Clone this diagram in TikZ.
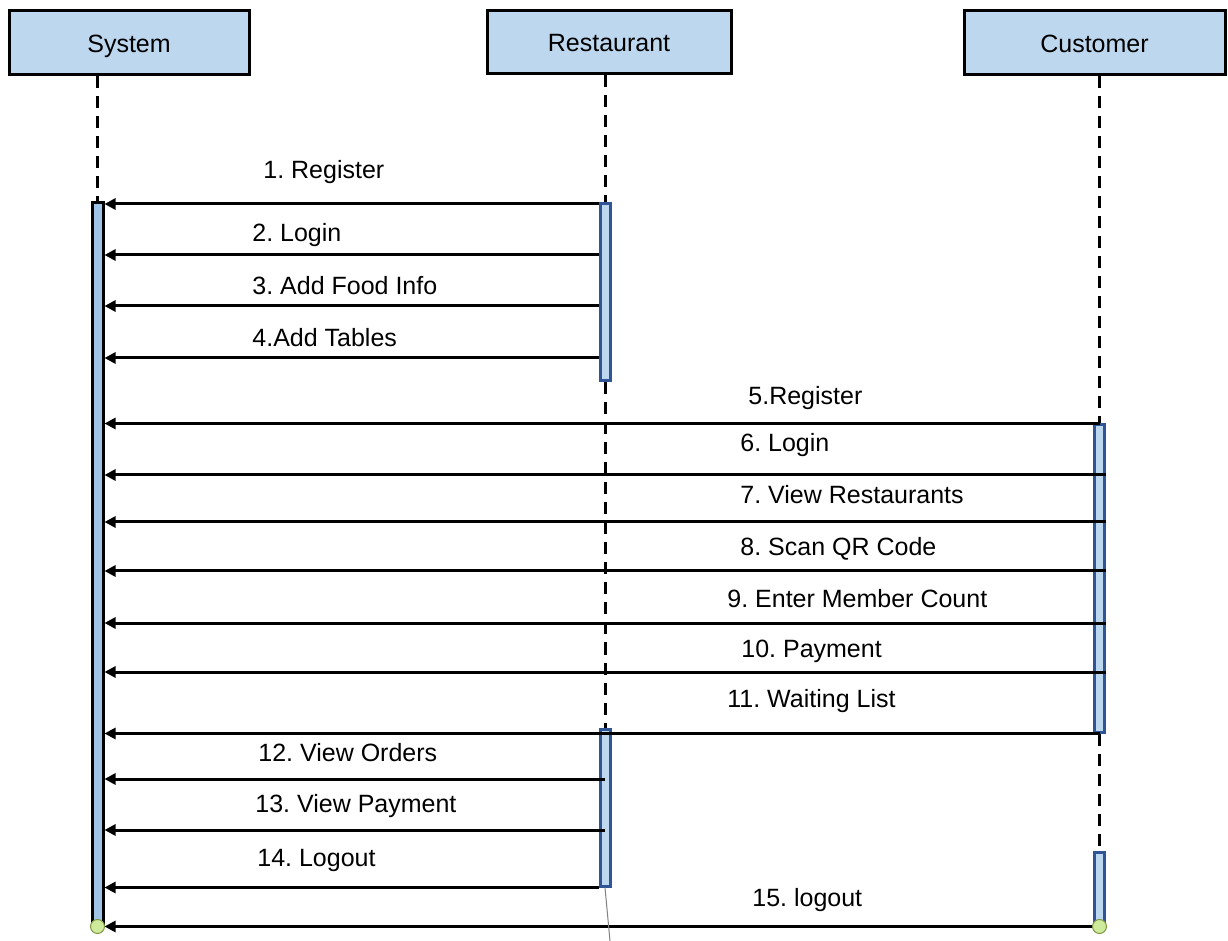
\documentclass[tikz,border=0pt]{standalone}
\usepackage{fontspec}
\setmainfont{Liberation Sans}
\usetikzlibrary{arrows.meta}
\frenchspacing

\definecolor{headfill}{RGB}{189,215,238}
\definecolor{barfill}{RGB}{157,195,230}
\definecolor{barline}{RGB}{47,85,151}
\definecolor{endfill}{RGB}{205,235,155}
\definecolor{endline}{RGB}{130,150,70}

\tikzset{
  head/.style={draw=black, line width=1.5pt, fill=headfill, minimum width=#1,
    minimum height=32pt, inner sep=0pt, text height=12pt, text depth=2.5pt,
    font=\fontsize{12.5}{15}\selectfont},
  sysbar/.style={draw=black, line width=1.5pt, fill=barfill, minimum width=5.5pt, inner sep=0pt},
  actbar/.style={draw=barline, line width=1.5pt, fill=headfill, minimum width=5pt, inner sep=0pt},
  lifeline/.style={line width=1.5pt, dash pattern=on 6pt off 4pt},
  msg/.style={line width=1.5pt, -{Triangle[length=5.5pt,width=5.5pt]}},
  lbl/.style={anchor=base west, inner sep=0pt, font=\fontsize{12.5}{15}\selectfont},
  endpt/.style={circle, draw=endline, fill=endfill, line width=0.5pt, minimum size=7pt, inner sep=0pt}
}

\begin{document}
\begin{tikzpicture}[x=0.5pt, y=-0.5pt]
  \useasboundingbox (0,0) rectangle (1228,941);

  % participants
  \node[head=120pt] (sysH)  at (129,43)    {System};
  \node[head=122pt, minimum height=31.5pt] (restH) at (609,42.5) {Restaurant};
  \node[head=130.5pt] (custH) at (1094.5,43) {Customer};

  % activation bars
  \node[sysbar, minimum height=361pt]  (sysbar) at (97.5,564)   {};
  \node[actbar, minimum height=88.5pt] (rbarA)  at (605,292.5)  {};
  \node[actbar, minimum height=78.5pt] (rbarB)  at (605,807.5)  {};
  \node[actbar, minimum height=153.5pt](cbarA)  at (1099.5,578.5) {};
  \node[actbar, minimum height=36.5pt] (cbarB)  at (1099.5,888.5) {};

  % lifelines
  \draw[lifeline] (sysH.south -| sysbar.north) -- (sysbar.north);
  \draw[lifeline] (restH.south -| rbarA.north) -- (rbarA.north);
  \draw[lifeline] (rbarA.south) -- (rbarB.north);
  \draw[lifeline] (custH.south -| cbarA.north) -- (cbarA.north);
  \draw[lifeline] (cbarA.south) -- (cbarB.north);

  % restaurant -> system
  \draw[msg] (rbarA.west |- 0,204) -- (sysbar.east |- 0,204);
  \draw[msg] (rbarA.west |- 0,255) -- (sysbar.east |- 0,255);
  \draw[msg] (rbarA.west |- 0,306) -- (sysbar.east |- 0,306);
  \draw[msg] (rbarA.west |- 0,358) -- (sysbar.east |- 0,358);

  % customer -> system
  \draw[msg] (cbarA.north) -- (sysbar.east |- cbarA.north);
  \draw[msg] (cbarA.east |- 0,475) -- (sysbar.east |- 0,475);
  \draw[msg] (cbarA.east |- 0,522) -- (sysbar.east |- 0,522);
  \draw[msg] (cbarA.east |- 0,571) -- (sysbar.east |- 0,571);
  \draw[msg] (cbarA.east |- 0,623) -- (sysbar.east |- 0,623);
  \draw[msg] (cbarA.east |- 0,672) -- (sysbar.east |- 0,672);
  \draw[msg] (cbarA.south) -- (sysbar.east |- cbarA.south);

  % restaurant -> system
  \draw[msg] (rbarB.center |- 0,779) -- (sysbar.east |- 0,779);
  \draw[msg] (rbarB.center |- 0,830) -- (sysbar.east |- 0,830);
  \draw[msg] (rbarB.south west) -- (sysbar.east |- rbarB.south west);

  % customer -> system
  \draw[msg] (cbarB.south) -- (sysbar.east |- cbarB.south);

  % termination points
  \node[endpt] (sysEnd)  at (sysbar.south) {};
  \node[endpt] (custEnd) at (cbarB.south)  {};

  % thin guide below the restaurant bar
  \coordinate (guideEnd) at (610,941);
  \draw[gray, line width=0.5pt] (rbarB.south) -- (guideEnd);

  % message labels
  \node[lbl] (l1)  at (263,179) {1. Register};
  \node[lbl] (l2)  at (252,242) {2. Login};
  \node[lbl] (l3)  at (252,295) {3. Add Food Info};
  \node[lbl] (l4)  at (252,347) {4.Add Tables};
  \node[lbl] (l5)  at (748,405) {5.Register};
  \node[lbl] (l6)  at (740,452) {6. Login};
  \node[lbl] (l7)  at (740,503) {7. View Restaurants};
  \node[lbl] (l8)  at (740,556) {8. Scan QR Code};
  \node[lbl] (l9)  at (727,608) {9. Enter Member Count};
  \node[lbl] (l10) at (741,657) {10. Payment};
  \node[lbl] (l11) at (727,707) {11. Waiting List};
  \node[lbl] (l12) at (258,761) {12. View Orders};
  \node[lbl] (l13) at (255,812) {13. View Payment};
  \node[lbl] (l14) at (257,866) {14. Logout};
  \node[lbl] (l15) at (752,906) {15. logout};
\end{tikzpicture}
\end{document}
